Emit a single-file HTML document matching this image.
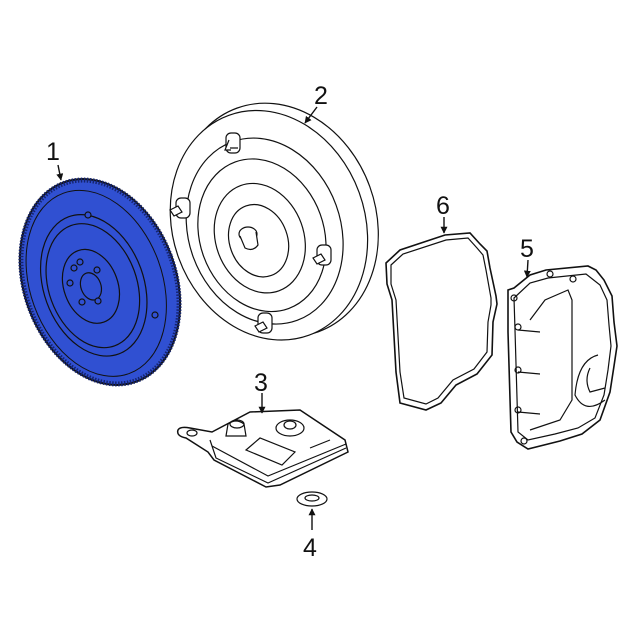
<!DOCTYPE html>
<html><head><style>
html,body{margin:0;padding:0;background:#fff;}
svg{display:block}
text{font-family:"Liberation Sans",sans-serif;font-size:25px;fill:#111}
</style></head><body>
<svg width="640" height="640" viewBox="0 0 640 640" xmlns="http://www.w3.org/2000/svg">
<defs>
<marker id="ah" viewBox="0 0 10 10" refX="9" refY="5" markerWidth="5" markerHeight="5" orient="auto"><path d="M0,0 L10,5 L0,10 z" fill="#111"/></marker>
</defs>
<g fill="none" stroke="#111" stroke-width="1.2">
<!-- Flywheel -->
<g transform="rotate(-20 100 282)">
<ellipse cx="100" cy="282" rx="76" ry="106" fill="#3050d2" stroke="#111" stroke-width="2"/>
<ellipse cx="100" cy="282" rx="75" ry="105" stroke="#15246e" stroke-width="5" stroke-dasharray="1.5 1.5"/>
<ellipse cx="96" cy="282" rx="66" ry="96" stroke="#111" stroke-width="1"/>
<ellipse cx="93" cy="283" rx="50" ry="73"/>
<ellipse cx="92" cy="283" rx="44" ry="64"/>
<ellipse cx="90" cy="283" rx="27" ry="38"/>
<ellipse cx="90" cy="283" rx="10" ry="14"/>
</g>
<g fill="#3050d2">
<circle cx="74" cy="268" r="3"/><circle cx="80" cy="262" r="3"/><circle cx="70" cy="283" r="3"/>
<circle cx="97" cy="270" r="3"/><circle cx="98" cy="301" r="3"/><circle cx="82" cy="302" r="3"/>
<circle cx="88" cy="215" r="3"/><circle cx="155" cy="315" r="3"/>
</g>
<!-- Torque converter -->
<g transform="rotate(-20 272 222)" fill="#fff">
<ellipse cx="278" cy="222" rx="98" ry="119"/>
<ellipse cx="268" cy="224" rx="96" ry="117"/>
<ellipse cx="262" cy="228" rx="76" ry="95"/>
<ellipse cx="258" cy="231" rx="62" ry="78"/>
<ellipse cx="255" cy="233" rx="44" ry="56"/>
<ellipse cx="253" cy="235" rx="29" ry="37"/>
</g>
<ellipse cx="248" cy="234" rx="9" ry="7" fill="#fff"/>
<path d="M240,236 L245,248 Q253,252 258,245 L256,232" fill="#fff"/>
<!-- studs -->
<g fill="#fff">
<rect x="226" y="133" width="14" height="20" rx="5"/><path d="M230,148 h8 M229,140 l-4,10 h6"/>
<rect x="176" y="198" width="14" height="20" rx="5"/><path d="M170,210 l8,-4 l4,6 l-8,4 z"/>
<rect x="317" y="245" width="14" height="20" rx="5"/><path d="M313,258 l8,-4 l4,6 l-8,4 z"/>
<rect x="258" y="313" width="14" height="20" rx="5"/><path d="M255,326 l8,-4 l4,6 l-8,4 z"/>
</g>
<!-- Gasket 6 -->
<path d="M386,263 L400,250 L445,235 L470,233 L480,244 L487,251 L490,268 L496,296 L497,304 L493,322 L492,355 L477,374 L456,385 L441,403 L426,410 L400,403 L396,372 L394,336 L392,300 L387,284 Z" stroke-width="1.6"/>
<path d="M391,265 L403,254 L446,240 L468,238 L477,248 L483,255 L486,270 L491,298 L491,305 L488,322 L487,352 L474,369 L453,380 L438,398 L426,404 L404,398 L400,372 L398,336 L396,300 L391,284 Z"/>
<!-- Pan 5 -->
<path d="M508,290 L514,288 L530,275 L546,270 L588,266 L596,270 L604,280 L612,296 L614,322 L617,346 L614,366 L610,392 L600,420 L582,434 L560,441 L528,449 L517,442 L511,432 L508,332 Z" stroke-width="1.6" fill="#fff"/>
<path d="M514,298 L530,283 L548,278 L586,274 L600,285 L607,300 L609,325 L611,346 L608,370 L604,395 L595,418 L578,428 L555,434 L528,440 L518,432 L515,330 Z"/>
<path d="M530,320 L545,300 L568,290 L572,300 L572,400 L560,420 L530,430"/>
<path d="M598,355 Q578,360 575,395 Q585,415 605,400"/>
<path d="M590,368 Q584,380 590,392 L605,388"/>
<circle cx="514" cy="298" r="3"/><circle cx="518" cy="327" r="3"/><circle cx="518" cy="370" r="3"/><circle cx="518" cy="410" r="3"/><circle cx="524" cy="441" r="3"/><circle cx="550" cy="274" r="3"/><circle cx="573" cy="279" r="3"/>
<path d="M518,330 L540,332 M518,372 L540,374 M518,412 L540,414"/>
<!-- Filter 3 -->
<path d="M178,430 Q180,426 190,428 L212,432 L250,412 L300,410 L345,440 L348,452 L280,485 L266,487 L214,460 L208,452 L186,438 Q176,436 178,430 Z" fill="#fff" stroke-width="1.5"/>
<path d="M210,440 L216,458 L268,483 L346,448"/>
<path d="M212,446 L268,476 L346,444"/>
<ellipse cx="192" cy="433" rx="5" ry="3"/>
<path d="M226,436 L228,424 Q236,418 244,424 L246,436 Z" fill="#fff"/>
<ellipse cx="237" cy="424" rx="7" ry="4"/>
<path d="M246,450 L260,438 L295,452 L282,465 Z"/>
<ellipse cx="290" cy="428" rx="14" ry="8" fill="#fff"/>
<ellipse cx="290" cy="425" rx="6" ry="4"/>
<path d="M310,448 L330,440"/>
<!-- Washer 4 -->
<ellipse cx="312" cy="499" rx="15" ry="7" fill="#fff"/>
<ellipse cx="312" cy="498" rx="7" ry="3"/>
</g>
<!-- leaders -->
<g stroke="#111" stroke-width="1.4" fill="none" marker-end="url(#ah)">
<path d="M58,165 L61,180"/>
<path d="M317,107 L305,123"/>
<path d="M262,393 L262,413"/>
<path d="M312,530 L312,509"/>
<path d="M528,260 L527,277"/>
<path d="M444,217 L444,233"/>
</g>
<text x="46" y="160">1</text>
<text x="314" y="104">2</text>
<text x="254" y="391">3</text>
<text x="303" y="556">4</text>
<text x="520" y="257">5</text>
<text x="436" y="214">6</text>
</svg>
</body></html>
